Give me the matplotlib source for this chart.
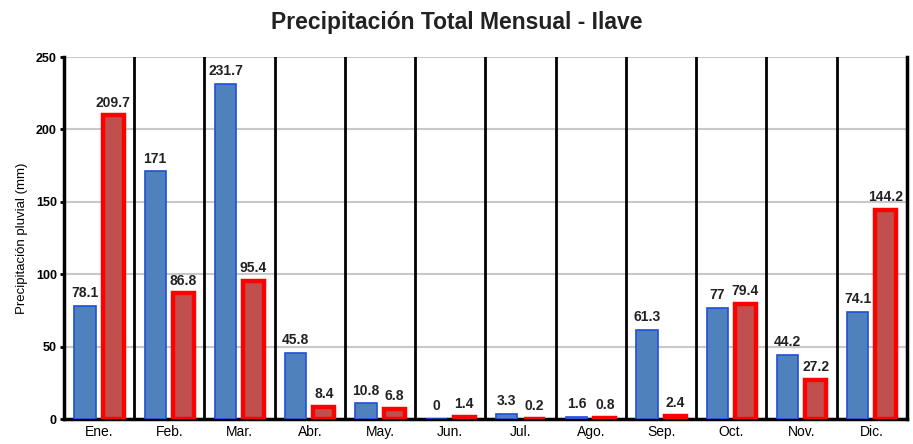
import matplotlib.pyplot as plt
import numpy as np

meses = ['Ene.', 'Feb.', 'Mar.', 'Abr.', 'May.', 'Jun.', 'Jul.', 'Ago.',
         'Sep.', 'Oct.', 'Nov.', 'Dic.']
serie_azul = [78.1, 171, 231.7, 45.8, 10.8, 0, 3.3, 1.6, 61.3, 77, 44.2, 74.1]
serie_roja = [209.7, 86.8, 95.4, 8.4, 6.8, 1.4, 0.2, 0.8, 2.4, 79.4, 27.2, 144.2]
yticks = [0, 50, 100, 150, 200, 250]

plt.rcParams['font.family'] = ['Liberation Sans Narrow', 'Liberation Sans', 'DejaVu Sans']

fig = plt.figure(figsize=(9.13, 4.44), dpi=100)
ax = fig.add_axes([0.070, 0.0563, 0.9234, 0.8153])

x = np.arange(len(meses))
ancho = 0.3
b1 = ax.bar(x - 0.2, serie_azul, ancho, color='#4F81BD', edgecolor='#1F4FD8',
            linewidth=1.2, zorder=3)
b2 = ax.bar(x + 0.2, serie_roja, ancho, color='#C0504D', edgecolor='#FF0000',
            linewidth=3.2, zorder=3)

for barras, vals in ((b1, serie_azul), (b2, serie_roja)):
    for b, v in zip(barras, vals):
        txt = f'{v:g}'
        ax.text(b.get_x() + b.get_width() / 2, v + 4, txt, ha='center',
                va='bottom', fontsize=10, fontweight='bold', color='#222222')

ax.set_xlim(-0.5, len(meses) - 0.5)
ax.set_ylim(0, 250)
ax.set_yticks(yticks)
ax.set_yticklabels([str(t) for t in yticks], fontsize=9, fontweight='bold')
ax.set_xticks(x)
ax.set_xticklabels(meses, fontsize=10)
ax.tick_params(axis='x', length=0, pad=4)
ax.tick_params(axis='y', length=3, width=2, pad=2)

# separadores verticales entre meses
for s in np.arange(0.5, len(meses) - 0.5, 1):
    ax.axvline(s, color='black', linewidth=2, zorder=2)
ax.yaxis.grid(True, color='#C8C8C8', linewidth=1.5, zorder=0)

for lado in ['left', 'bottom', 'right']:
    ax.spines[lado].set_linewidth(2.5)
    ax.spines[lado].set_color('black')
ax.spines['top'].set_visible(False)

ax.set_ylabel('Precipitación pluvial (mm)', fontsize=9.5, labelpad=6)
fig.text(0.5, 0.95, 'Precipitación Total Mensual - Ilave', ha='center',
         va='center', fontsize=16.5, fontweight='bold', color='#222222')

fig.savefig('out.png', dpi=100)
